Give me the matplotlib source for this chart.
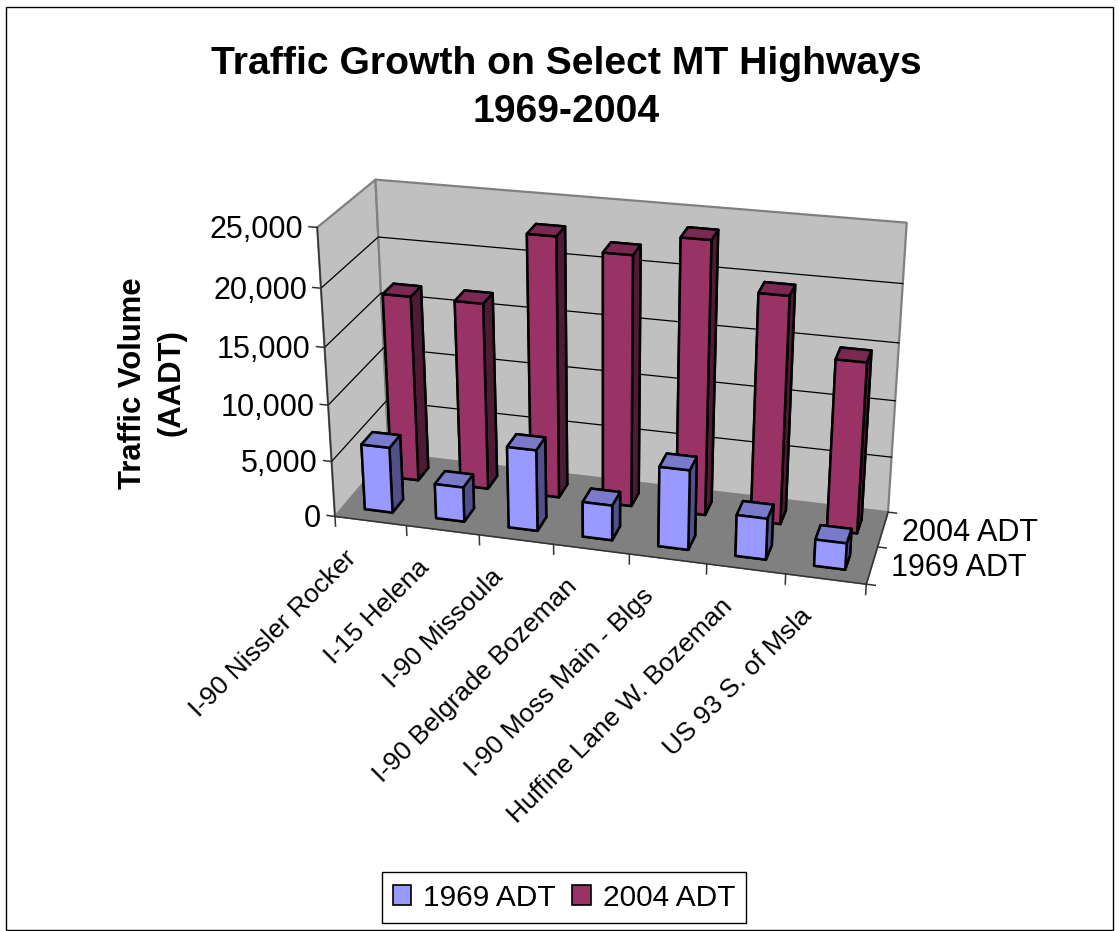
import numpy as np
import matplotlib
matplotlib.use('Agg')
import matplotlib.pyplot as plt
from matplotlib.patches import Patch, Rectangle
from mpl_toolkits.mplot3d.art3d import Poly3DCollection

plt.rcParams['font.family'] = ['Liberation Sans', 'DejaVu Sans']

categories = ['I-90 Nissler Rocker', 'I-15 Helena', 'I-90 Missoula', 'I-90 Belgrade Bozeman',
              'I-90 Moss Main - Blgs', 'Huffine Lane W. Bozeman', 'US 93 S. of Msla']
adt_1969 = [5900, 3100, 7200, 3100, 7000, 3600, 2300]
adt_2004 = [16700, 16700, 23000, 22000, 23800, 19800, 14900]
series_names = ['1969 ADT', '2004 ADT']
z_ticks = [0, 5000, 10000, 15000, 20000, 25000]

W, H = 1119, 931
ZMAX = 25000

# box corners (x, y, z) and where they sit in the picture, used to fit the camera
corners_3d = [(0, 0, 0), (7, 0, 0), (7, 2, 0), (0, 2, 0), (0, 0, ZMAX), (0, 2, ZMAX), (7, 2, ZMAX)]
corners_px = [(335.7, 516.7), (866, 584.3), (888.3, 512), (388, 453), (316.7, 227), (376, 180), (906.7, 222.7)]


def fit_camera():
    rows = []
    for (x, y, z), (u, v) in zip(corners_3d, corners_px):
        z = z / ZMAX
        rows.append([x, y, z, 1, 0, 0, 0, 0, -u * x, -u * y, -u * z, -u])
        rows.append([0, 0, 0, 0, x, y, z, 1, -v * x, -v * y, -v * z, -v])
    p = np.linalg.svd(np.array(rows))[2][-1].reshape(3, 4)
    p[:, 2] /= ZMAX
    # keep w positive inside the box
    if p[2] @ np.array([3.5, 1, ZMAX / 2, 1]) < 0:
        p = -p
    return p / (p[2] @ np.array([3.5, 1, ZMAX / 2, 1]))


P = fit_camera()


def label(x, y, z, s, dx=0, dy=0, **kw):
    # text placed at a box position, offset in pixels
    u, v, w = P @ np.array([x, y, z, 1])
    fig.text((u / w + dx) / W, 1 - (v / w + dy) / H, s, **kw)


fig = plt.figure(figsize=(W / 100, H / 100), dpi=100)
ax = fig.add_axes([0, 0, 1, 1], projection='3d', computed_zorder=False)
ax.set_proj_type('ortho')
ax.set_axis_off()
ax.patch.set_visible(False)
ax.apply_aspect = lambda position=None: None
ax.set_position([0, 0, 1, 1])


def get_proj():
    x0, x1 = ax.viewLim.intervalx
    y0, y1 = ax.viewLim.intervaly
    to_view = np.array([[(x1 - x0) / W, 0, x0], [0, -(y1 - y0) / H, y1], [0, 0, 1]])
    m = to_view @ P
    depth = m[2] - np.array([0, 0, 0, 0.5])
    return np.vstack([m[0], m[1], depth, m[2]])


ax.get_proj = get_proj

# walls and floor
wall = '#c0c0c0'
panes = [
    [(0, 0, 0), (0, 2, 0), (0, 2, ZMAX), (0, 0, ZMAX)],
    [(0, 2, 0), (7, 2, 0), (7, 2, ZMAX), (0, 2, ZMAX)],
]
ax.add_collection3d(Poly3DCollection(panes, facecolors=wall, edgecolors='#808080', linewidths=1.6, zorder=1))
floor = [[(0, 0, 0), (7, 0, 0), (7, 2, 0), (0, 2, 0)]]
ax.add_collection3d(Poly3DCollection(floor, facecolors='#808080', edgecolors='#808080', linewidths=0.5, zorder=2))

# gridlines over both walls
for z in z_ticks[1:-1]:
    ax.plot([0, 0, 7], [0, 2, 2], [z, z, z], color='black', lw=0.9, zorder=3)

# axis lines and ticks
ax.plot([0, 0], [0, 0], [0, ZMAX], color='#333333', lw=1.1, zorder=3)
ax.plot([0, 7], [0, 0], [0, 0], color='#333333', lw=1.1, zorder=3)
ax.plot([7, 7], [0, 2], [0, 0], color='#333333', lw=1.1, zorder=3)
for z in z_ticks:
    ax.plot([0, -0.11], [0, 0], [z, z], color='#333333', lw=1.1, zorder=3)
    label(0, 0, z, f'{z:,}', dx=-14, dy=2.5, ha='right', va='center', fontsize=22)
for i in range(8):
    ax.plot([i, i], [0, 0], [0, -900], color='#333333', lw=1.1, zorder=3)
for j in range(3):
    ax.plot([7, 7.11], [j, j], [0, 0], color='#333333', lw=1.1, zorder=3)

for i, name in enumerate(categories):
    label(i + 0.5, 0, 0, name, dx=-26, dy=25, ha='right', va='top', rotation=45,
          rotation_mode='anchor', fontsize=19)
label(7, 0.5, 0, series_names[0], dx=19, dy=3, ha='left', va='center', fontsize=22)
label(7, 1.5, 0, series_names[1], dx=19, dy=4, ha='left', va='center', fontsize=22)

# bars, faces are -z, +z, -y, +y, -x, +x
blue_faces = ['#9999ff', '#7a7acc', '#9999ff', '#9999ff', '#50508a', '#50508a']
red_faces = ['#993366', '#7a2952', '#993366', '#993366', '#4f1a35', '#4f1a35']
xpos = np.arange(7) + 0.5 - 0.195
ax.bar3d(xpos, np.full(7, 1.3), np.zeros(7), 0.39, 0.4, adt_2004, color=red_faces * 7,
         edgecolor='black', linewidth=1.8, shade=False, zorder=4)
ax.bar3d(xpos, np.full(7, 0.3), np.zeros(7), 0.39, 0.4, adt_1969, color=blue_faces * 7,
         edgecolor='black', linewidth=1.8, shade=False, zorder=5)

fig.text(566 / W, 1 - 64 / H, 'Traffic Growth on Select MT Highways', ha='center', va='center',
         fontsize=28.2, fontweight='bold')
fig.text(566 / W, 1 - 112 / H, '1969-2004', ha='center', va='center', fontsize=28.2, fontweight='bold')
fig.text(133 / W, 1 - 383 / H, 'Traffic Volume', rotation=90, ha='center', va='center',
         fontsize=22.3, fontweight='bold')
fig.text(172 / W, 1 - 383 / H, '(AADT)', rotation=90, ha='center', va='center',
         fontsize=22.3, fontweight='bold')

fig.add_artist(Rectangle((5.5 / W, 1 - 930 / H), 1107.5 / W, 923 / H, transform=fig.transFigure,
                         fill=False, edgecolor='black', lw=1))

handles = [Patch(facecolor='#9999ff', edgecolor='black', lw=1.2),
           Patch(facecolor='#993366', edgecolor='black', lw=1.2)]
fig.legend(handles, series_names, loc='center', bbox_to_anchor=(564 / W, 1 - 897.5 / H), ncol=2,
           fontsize=21.5, fancybox=False, framealpha=1, edgecolor='black', handlelength=0.62,
           handleheight=0.62, handletextpad=0.4, columnspacing=0.55, borderpad=0.38, borderaxespad=0)

fig.savefig('out.png', dpi=100)
